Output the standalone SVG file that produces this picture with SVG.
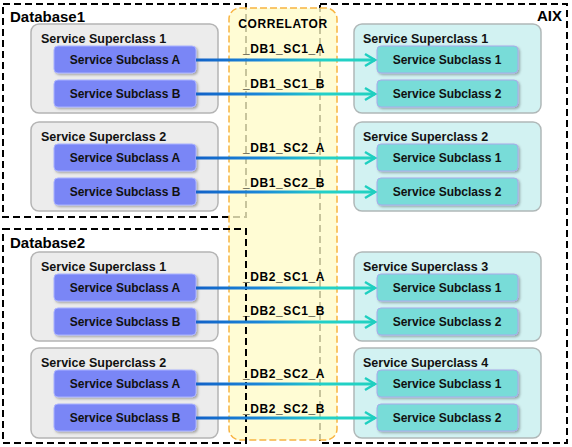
<svg xmlns="http://www.w3.org/2000/svg" width="572" height="447" viewBox="0 0 572 447">
<defs>
<style>
.frame{fill:none;stroke:#000;stroke-width:2;stroke-dasharray:7,4}
.gsup{fill:#ececec;stroke:#b4b4b4;stroke-width:1.5}
.tsup{fill:#d2f2f2;stroke:#b0b8b8;stroke-width:1.5}
.bsub{fill:#7a86f6;stroke:#aab2ff;stroke-width:1}
.tsub{fill:#78dcd8;stroke:#a8aaea;stroke-width:1}
.big{font-family:"Liberation Sans",Arial,sans-serif;font-weight:bold;font-size:15px;fill:#000}
.t12{font-family:"Liberation Sans",Arial,sans-serif;font-weight:bold;font-size:12px;fill:#111}
.ttl{font-family:"Liberation Sans",Arial,sans-serif;font-weight:bold;font-size:12.5px;fill:#111}
.lbl{font-family:"Liberation Sans",Arial,sans-serif;font-weight:bold;font-size:12px;fill:#000;letter-spacing:0.6px}
.arr{fill:none;stroke:url(#g);stroke-width:3}
</style>
<linearGradient id="g" gradientUnits="userSpaceOnUse" x1="197" y1="0" x2="376" y2="0">
<stop offset="0" stop-color="#1262c8"/>
<stop offset="0.35" stop-color="#1a86d8"/>
<stop offset="0.7" stop-color="#22d0c8"/>
<stop offset="1" stop-color="#22d2c0"/>
</linearGradient>
<filter id="sh" x="-10%" y="-20%" width="125%" height="150%">
<feDropShadow dx="1.5" dy="1.5" stdDeviation="1" flood-color="#000" flood-opacity="0.3"/>
</filter>
<marker id="ah" markerUnits="userSpaceOnUse" markerWidth="14" markerHeight="16" refX="11" refY="7" orient="auto" viewBox="0 0 14 14">
<path d="M1,1 L11,7 L1,13" fill="none" stroke="#1fcfc0" stroke-width="2.5"/>
</marker>
</defs>
<rect width="572" height="447" fill="#fff"/>

<g id="Database1">
<rect class="frame" x="3" y="4" width="243" height="213"/>
<text class="big" x="10" y="22">Database1</text>
</g>
<g id="AIX">
<rect class="frame" x="320" y="4" width="247" height="439"/>
<text class="big" x="562" y="21" text-anchor="end">AIX</text>
</g>

<g id="DB1_SC1">
<rect class="gsup" x="31" y="24" width="187" height="89" rx="8"/>
<text class="ttl" x="41" y="43">Service Superclass 1</text>
<g id="DB1_SC1_A"><rect class="bsub" filter="url(#sh)" x="54" y="46" width="142" height="27" rx="4"/><text class="t12" x="125" y="64" text-anchor="middle">Service Subclass A</text></g>
<g id="DB1_SC1_B"><rect class="bsub" filter="url(#sh)" x="54" y="80" width="142" height="27" rx="4"/><text class="t12" x="125" y="98" text-anchor="middle">Service Subclass B</text></g>
</g>
<g id="DB1_SC2">
<rect class="gsup" x="31" y="122" width="187" height="89" rx="8"/>
<text class="ttl" x="41" y="141">Service Superclass 2</text>
<g id="DB1_SC2_A"><rect class="bsub" filter="url(#sh)" x="54" y="144" width="142" height="27" rx="4"/><text class="t12" x="125" y="162" text-anchor="middle">Service Subclass A</text></g>
<g id="DB1_SC2_B"><rect class="bsub" filter="url(#sh)" x="54" y="178" width="142" height="27" rx="4"/><text class="t12" x="125" y="196" text-anchor="middle">Service Subclass B</text></g>
</g>
<g id="DB2_SC1">
<rect class="gsup" x="31" y="252" width="187" height="89" rx="8"/>
<text class="ttl" x="41" y="271">Service Superclass 1</text>
<g id="DB2_SC1_A"><rect class="bsub" filter="url(#sh)" x="54" y="274" width="142" height="27" rx="4"/><text class="t12" x="125" y="292" text-anchor="middle">Service Subclass A</text></g>
<g id="DB2_SC1_B"><rect class="bsub" filter="url(#sh)" x="54" y="308" width="142" height="27" rx="4"/><text class="t12" x="125" y="326" text-anchor="middle">Service Subclass B</text></g>
</g>
<g id="DB2_SC2">
<rect class="gsup" x="31" y="348" width="187" height="90" rx="8"/>
<text class="ttl" x="41" y="367">Service Superclass 2</text>
<g id="DB2_SC2_A"><rect class="bsub" filter="url(#sh)" x="54" y="370" width="142" height="27" rx="4"/><text class="t12" x="125" y="388" text-anchor="middle">Service Subclass A</text></g>
<g id="DB2_SC2_B"><rect class="bsub" filter="url(#sh)" x="54" y="404" width="142" height="27" rx="4"/><text class="t12" x="125" y="422" text-anchor="middle">Service Subclass B</text></g>
</g>

<g id="AIX_SC1">
<rect class="tsup" x="354" y="24" width="187" height="89" rx="8"/>
<text class="ttl" x="363" y="43">Service Superclass 1</text>
<g id="AIX_SC1_1"><rect class="tsub" filter="url(#sh)" x="377" y="46" width="141" height="27" rx="4"/><text class="t12" x="447" y="64" text-anchor="middle">Service Subclass 1</text></g>
<g id="AIX_SC1_2"><rect class="tsub" filter="url(#sh)" x="377" y="80" width="141" height="27" rx="4"/><text class="t12" x="447" y="98" text-anchor="middle">Service Subclass 2</text></g>
</g>
<g id="AIX_SC2">
<rect class="tsup" x="354" y="122" width="187" height="89" rx="8"/>
<text class="ttl" x="363" y="141">Service Superclass 2</text>
<g id="AIX_SC2_1"><rect class="tsub" filter="url(#sh)" x="377" y="144" width="141" height="27" rx="4"/><text class="t12" x="447" y="162" text-anchor="middle">Service Subclass 1</text></g>
<g id="AIX_SC2_2"><rect class="tsub" filter="url(#sh)" x="377" y="178" width="141" height="27" rx="4"/><text class="t12" x="447" y="196" text-anchor="middle">Service Subclass 2</text></g>
</g>
<g id="AIX_SC3">
<rect class="tsup" x="354" y="252" width="187" height="89" rx="8"/>
<text class="ttl" x="363" y="271">Service Superclass 3</text>
<g id="AIX_SC3_1"><rect class="tsub" filter="url(#sh)" x="377" y="274" width="141" height="27" rx="4"/><text class="t12" x="447" y="292" text-anchor="middle">Service Subclass 1</text></g>
<g id="AIX_SC3_2"><rect class="tsub" filter="url(#sh)" x="377" y="308" width="141" height="27" rx="4"/><text class="t12" x="447" y="326" text-anchor="middle">Service Subclass 2</text></g>
</g>
<g id="AIX_SC4">
<rect class="tsup" x="354" y="348" width="187" height="90" rx="8"/>
<text class="ttl" x="363" y="367">Service Superclass 4</text>
<g id="AIX_SC4_1"><rect class="tsub" filter="url(#sh)" x="377" y="370" width="141" height="27" rx="4"/><text class="t12" x="447" y="388" text-anchor="middle">Service Subclass 1</text></g>
<g id="AIX_SC4_2"><rect class="tsub" filter="url(#sh)" x="377" y="404" width="141" height="27" rx="4"/><text class="t12" x="447" y="422" text-anchor="middle">Service Subclass 2</text></g>
</g>

<g id="CORRELATOR">
<rect x="229" y="8" width="108" height="432" rx="11" fill="#fffbc8" fill-opacity="0.78" stroke="#f8b440" stroke-width="1.5" stroke-dasharray="7,3"/>
<text class="lbl" x="283" y="28" text-anchor="middle">CORRELATOR</text>
</g>

<g id="Database2">
<rect class="frame" x="3" y="229" width="243" height="214"/>
<text class="big" x="10" y="248">Database2</text>
</g>

<g id="connectors">
<path class="arr" d="M196,60 H375" marker-end="url(#ah)"/>
<path class="arr" d="M196,94 H375" marker-end="url(#ah)"/>
<path class="arr" d="M196,158 H375" marker-end="url(#ah)"/>
<path class="arr" d="M196,192 H375" marker-end="url(#ah)"/>
<path class="arr" d="M196,288 H375" marker-end="url(#ah)"/>
<path class="arr" d="M196,322 H375" marker-end="url(#ah)"/>
<path class="arr" d="M196,384 H375" marker-end="url(#ah)"/>
<path class="arr" d="M196,418 H375" marker-end="url(#ah)"/>
<text class="lbl" x="243" y="53">_DB1_SC1_A</text>
<text class="lbl" x="243" y="88">_DB1_SC1_B</text>
<text class="lbl" x="243" y="152">_DB1_SC2_A</text>
<text class="lbl" x="243" y="187">_DB1_SC2_B</text>
<text class="lbl" x="243" y="281">_DB2_SC1_A</text>
<text class="lbl" x="243" y="315">_DB2_SC1_B</text>
<text class="lbl" x="243" y="378">_DB2_SC2_A</text>
<text class="lbl" x="243" y="413">_DB2_SC2_B</text>
</g>
</svg>
